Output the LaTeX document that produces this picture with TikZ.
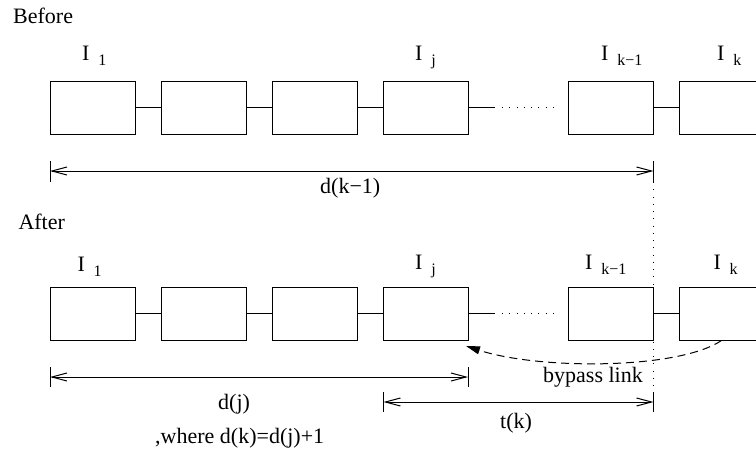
\documentclass[tikz,border=0pt]{standalone}
\usepackage{fontspec}
\setmainfont{Liberation Serif}
\usetikzlibrary{positioning, arrows.meta}
\tikzset{
    on grid,
    node distance=111pt,
    box/.style={draw, line width=1pt, minimum width=85pt, minimum height=53pt, inner sep=0pt},
    link/.style={line width=1pt},
    dots/.style={line width=1pt, dash pattern=on 1pt off 6.25pt},
    tick/.style={line width=1pt},
    dim/.style={line width=1pt, {Straight Barb[length=15pt,width=8pt]}-{Straight Barb[length=15pt,width=8pt]}},
    bypass/.style={line width=1pt, dash pattern=on 8pt off 5pt, -{Triangle[length=14pt,width=8pt]}},
    txt/.style={font=\fontsize{22}{26}\selectfont, inner sep=0pt, anchor=base west},
}
\newcommand{\elem}[1]{I\hspace{0.4em}\raisebox{-5pt}{\fontsize{16}{18}\selectfont #1}}

\begin{document}
\begin{tikzpicture}[x=1pt, y=-1pt]
    \useasboundingbox (0,0) rectangle (756,461);

    % before
    \node[txt] (before) at (13,23) {Before};
    \node[box] (b1) at (92.5,107.5) {};
    \node[box, right=of b1] (b2) {};
    \node[box, right=of b2] (b3) {};
    \node[box, right=of b3] (b4) {};
    \node[box, right=185pt of b4] (b5) {};
    \node[box, right=of b5] (b6) {};

    \node[txt] (lb1) at (82,60.5) {\elem{1}};
    \node[txt] (lb4) at (415,60.5) {\elem{j}};
    \node[txt] (lb5) at (601,60.5) {\elem{k−1}};
    \node[txt] (lb6) at (717,60.5) {\elem{k}};

    \coordinate (bsolid) at (495,107.5);
    \coordinate (bdotA) at (502,107.5);
    \coordinate (bdotB) at (560,107.5);
    \draw[link] (b1) -- (b2);
    \draw[link] (b2) -- (b3);
    \draw[link] (b3) -- (b4);
    \draw[link] (b4.east) -- (bsolid);
    \draw[dots] (bdotA) -- (bdotB);
    \draw[link] (b5) -- (b6);

    \coordinate (dkL) at (50,171);
    \coordinate (dkR) at (653.5,171);
    \draw[dim] (dkL) -- (dkR);
    \draw[tick] (dkL) ++(0,-10) -- ++(0,21);
    \draw[tick] (dkR) ++(0,-10) -- ++(0,21) coordinate (vtop);
    \node[txt] (dklbl) at (320,193.5) {d(k−1)};

    % after
    \node[txt] (after) at (18.3,229.3) {After};
    \node[box] (a1) at (92.5,313.5) {};
    \node[box, right=of a1] (a2) {};
    \node[box, right=of a2] (a3) {};
    \node[box, right=of a3] (a4) {};
    \node[box, right=185pt of a4] (a5) {};
    \node[box, right=of a5] (a6) {};

    \node[txt] (la1) at (77.3,271) {\elem{1}};
    \node[txt] (la4) at (415,269) {\elem{j}};
    \node[txt] (la5) at (585,269) {\elem{k−1}};
    \node[txt] (la6) at (713.3,269) {\elem{k}};

    \coordinate (asolid) at (495,313.5);
    \coordinate (adotA) at (502,313.5);
    \coordinate (adotB) at (560,313.5);
    \draw[link] (a1) -- (a2);
    \draw[link] (a2) -- (a3);
    \draw[link] (a3) -- (a4);
    \draw[link] (a4.east) -- (asolid);
    \draw[dots] (adotA) -- (adotB);
    \draw[link] (a5) -- (a6);

    \coordinate (bypassEnd) at (466,346);
    \draw[bypass] (a6.south) .. controls +(-43,29) and +(74,24) .. (bypassEnd);
    \node[txt] (bplbl) at (543,382) {bypass link};

    \coordinate (djL) at (50,377);
    \coordinate (djR) at (468,377);
    \draw[dim] (djL) -- (djR);
    \draw[tick] (djL) ++(0,-10) -- ++(0,20);
    \draw[tick] (djR) ++(0,-10) -- ++(0,20);
    \node[txt] (djlbl) at (218,409.5) {d(j)};

    \coordinate (tkL) at (383.5,402);
    \coordinate (tkR) at (653.5,402);
    \draw[dim] (tkL) -- (tkR);
    \draw[tick] (tkL) ++(0,-10) -- ++(0,20);
    \draw[tick] (tkR) ++(0,10) -- ++(0,-20) coordinate (vbot);
    \node[txt] (tklbl) at (500,428) {t(k)};

    \draw[dots] (vtop) -- (vbot);

    \node[txt] (where) at (155,443.5) {,where d(k)=d(j)+1};
\end{tikzpicture}
\end{document}
